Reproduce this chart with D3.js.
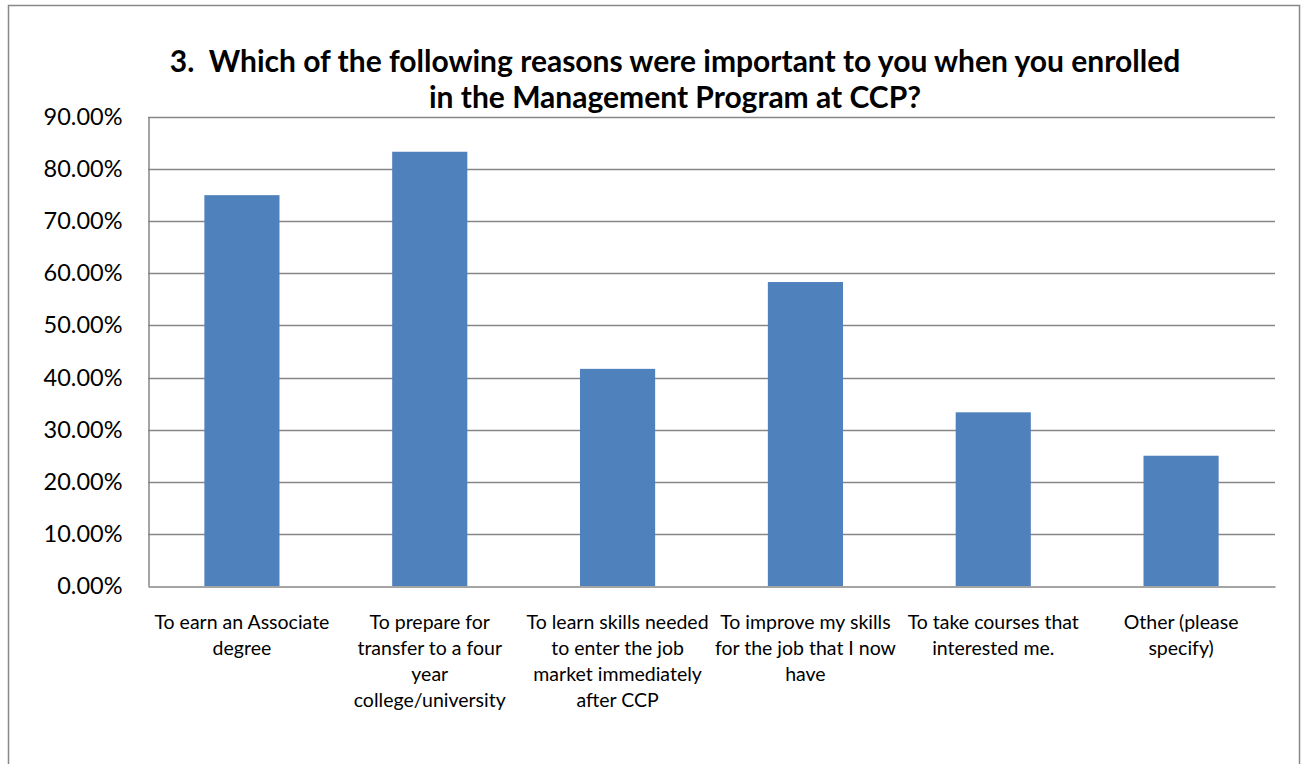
<!DOCTYPE html>
<html>
<head>
<meta charset="utf-8">
<script src="https://cdn.jsdelivr.net/npm/d3@7"></script>
<style>
  html, body { margin: 0; padding: 0; background: #fff; }
  svg { display: block; }
  text { font-family: Lato, "Open Sans", sans-serif; fill: #000; }
</style>
</head>
<body>
<svg id="chart" width="1306" height="764"></svg>
<script>
// Survey question 3: share of respondents citing each enrollment reason
const categories = [
  "To earn an Associate degree",
  "To prepare for transfer to a four year college/university",
  "To learn skills needed to enter the job market immediately after CCP",
  "To improve my skills for the job that I now have",
  "To take courses that interested me.",
  "Other (please specify)"
];
// Wrapped axis label lines for each category
const categoryLines = [
  ["To earn an Associate", "degree"],
  ["To prepare for", "transfer to a four", "year", "college/university"],
  ["To learn skills needed", "to enter the job", "market immediately", "after CCP"],
  ["To improve my skills", "for the job that I now", "have"],
  ["To take courses that", "interested me."],
  ["Other (please", "specify)"]
];
const values = [0.75, 0.8333, 0.4167, 0.5833, 0.3333, 0.25];
const yTicks = [0, 0.1, 0.2, 0.3, 0.4, 0.5, 0.6, 0.7, 0.8, 0.9];
const titleLines = [
  "3.\u00a0 Which of the following reasons were important to you when you enrolled",
  "in the Management Program at CCP?"
];

const svg = d3.select("#chart");
const plot = { left: 148, right: 1275, top: 117, bottom: 586 };

// Outer chart frame
svg.append("rect")
  .attr("x", 8.5).attr("y", 5.5)
  .attr("width", 1291).attr("height", 800)
  .attr("fill", "#fff").attr("stroke", "#888").attr("stroke-width", 1.5);

const x = d3.scaleBand()
  .domain(categories)
  .range([plot.left, plot.right])
  .paddingInner(0.6).paddingOuter(0.3);

const y = d3.scaleLinear().domain([0, 0.9]).range([plot.bottom, plot.top]);

// Horizontal gridlines
svg.append("g")
  .selectAll("line")
  .data(yTicks.filter(d => d > 0))
  .join("line")
  .attr("x1", plot.left).attr("x2", plot.right)
  .attr("y1", d => Math.round(y(d)) + 0.5).attr("y2", d => Math.round(y(d)) + 0.5)
  .attr("stroke", "#868686").attr("stroke-width", 1.5);

// Bars
svg.append("g")
  .selectAll("rect")
  .data(values)
  .join("rect")
  .attr("x", (d, i) => x(categories[i]))
  .attr("width", x.bandwidth())
  .attr("y", d => y(d))
  .attr("height", d => plot.bottom - y(d))
  .attr("fill", "#4f81bd");

// Y axis
const yAxis = d3.axisLeft(y)
  .tickValues(yTicks)
  .tickFormat(d => (d * 100).toFixed(2) + "%")
  .tickSize(0)
  .tickPadding(26);
const yg = svg.append("g").attr("transform", `translate(${plot.left + 0.5},0)`).call(yAxis);
yg.select(".domain").attr("stroke", "#868686").attr("stroke-width", 1.5);
yg.selectAll("text").attr("font-size", 23.5).attr("font-family", "Lato, sans-serif").attr("fill", "#000");

// X axis baseline
const xAxis = d3.axisBottom(x).tickSize(0).tickFormat("");
const xg = svg.append("g").attr("transform", `translate(0,${plot.bottom + 0.5})`).call(xAxis);
xg.select(".domain").attr("stroke", "#868686").attr("stroke-width", 1.5);

// Wrapped category labels
const lbl = svg.append("g")
  .selectAll("text")
  .data(categories)
  .join("text")
  .attr("text-anchor", "middle")
  .attr("font-size", 19.5)
  .attr("x", d => x(d) + x.bandwidth() / 2)
  .attr("y", 629);
lbl.each(function(d, i) {
  const t = d3.select(this);
  categoryLines[i].forEach((line, k) => {
    t.append("tspan")
      .attr("x", x(d) + x.bandwidth() / 2)
      .attr("dy", k === 0 ? 0 : 26)
      .text(line);
  });
});

// Title
svg.append("g")
  .selectAll("text")
  .data(titleLines)
  .join("text")
  .attr("text-anchor", "middle")
  .attr("x", 675)
  .attr("y", (d, i) => 72 + i * 36)
  .attr("font-size", 30)
  .attr("font-weight", "bold")
  .text(d => d);
</script>
</body>
</html>
